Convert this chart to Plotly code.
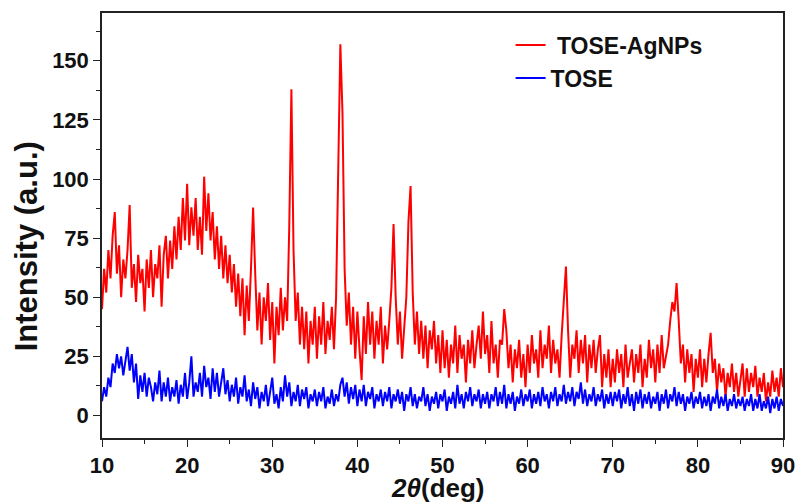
import numpy as np
import plotly.graph_objects as go

# 2-theta positions (deg), 0.25 deg step from 10 to 90
two_theta = [10 + 0.25 * i for i in range(321)]

# TOSE-AgNPs intensity (a.u.) (5 deg per row)
tose_agnps = [
    45, 62, 52, 70, 58, 76, 86, 60, 72, 50, 66, 58, 70, 89, 54, 64, 48, 68, 56, 62,
    44, 66, 54, 70, 50, 64, 58, 72, 46, 68, 76, 58, 74, 62, 80, 66, 84, 70, 92, 74,
    98, 72, 88, 76, 92, 70, 84, 68, 101, 78, 94, 74, 86, 66, 80, 62, 76, 58, 72, 56,
    68, 52, 64, 46, 60, 42, 58, 34, 55, 40, 62, 88, 60, 36, 52, 30, 50, 40, 56, 32,
    48, 22, 46, 34, 54, 36, 50, 40, 80, 138, 70, 40, 52, 30, 46, 28, 44, 22, 40, 30,
    46, 24, 42, 30, 48, 26, 40, 32, 46, 28, 50, 105, 157, 128, 62, 38, 52, 30, 46, 24,
    44, 28, 15, 42, 26, 48, 30, 44, 24, 40, 30, 46, 22, 38, 28, 40, 54, 81, 50, 30,
    44, 24, 36, 50, 82, 97, 52, 30, 44, 26, 40, 24, 38, 20, 36, 28, 40, 22, 34, 18,
    36, 20, 32, 16, 30, 22, 38, 18, 34, 24, 30, 14, 32, 22, 36, 20, 30, 38, 24, 44,
    26, 34, 18, 40, 22, 30, 16, 32, 30, 45, 36, 20, 30, 14, 28, 20, 32, 16, 26, 12,
    30, 18, 34, 22, 28, 16, 36, 20, 30, 24, 38, 18, 32, 22, 28, 16, 34, 48, 63, 36,
    16, 30, 24, 36, 18, 32, 22, 34, 14, 30, 20, 32, 18, 28, 34, 12, 26, 16, 28, 12,
    24, 14, 28, 18, 26, 12, 30, 16, 22, 28, 14, 26, 18, 30, 12, 24, 16, 32, 20, 28,
    14, 30, 18, 34, 20, 26, 30, 40, 48, 44, 56, 40, 22, 30, 14, 28, 18, 26, 10, 24,
    16, 28, 12, 24, 14, 26, 35, 18, 24, 10, 22, 14, 20, 8, 18, 12, 22, 10, 18, 8,
    16, 22, 8, 20, 10, 18, 12, 21, 8, 16, 10, 18, 6, 14, 8, 19, 10, 16, 8, 20,
    12,
]

# TOSE intensity (a.u.)
tose = [
    6, 12, 8, 16, 12, 22, 18, 26, 20, 25, 17, 24, 29, 19, 26, 14, 22, 7, 17, 10,
    18, 8, 16, 12, 6, 14, 9, 19, 6, 14, 8, 16, 6, 12, 8, 15, 5, 13, 8, 18,
    7, 14, 25, 8, 14, 10, 18, 8, 21, 12, 16, 7, 20, 10, 18, 8, 14, 20, 9, 15,
    6, 13, 8, 16, 5, 12, 8, 17, 6, 11, 4, 14, 7, 12, 3, 10, 6, 13, 4, 10,
    16, 5, 9, 3, 12, 6, 17, 8, 14, 4, 10, 6, 13, 4, 11, 7, 12, 3, 9, 6,
    11, 4, 10, 6, 12, 3, 8, 5, 11, 4, 9, 6, 13, 16, 8, 14, 5, 12, 7, 13,
    4, 11, 6, 13, 4, 10, 7, 12, 3, 9, 6, 11, 4, 10, 6, 12, 3, 9, 6, 11,
    5, 10, 2, 9, 6, 12, 4, 9, 3, 8, 6, 12, 4, 9, 2, 8, 5, 10, 3, 9,
    6, 11, 2, 8, 5, 10, 3, 13, 5, 9, 3, 10, 6, 12, 4, 9, 6, 11, 3, 9,
    5, 10, 3, 9, 6, 12, 4, 10, 5, 13, 3, 9, 5, 10, 2, 8, 5, 11, 4, 9,
    6, 11, 3, 9, 5, 10, 4, 12, 6, 9, 3, 10, 6, 12, 4, 9, 6, 13, 5, 10,
    6, 12, 4, 10, 7, 14, 5, 11, 4, 9, 6, 12, 4, 9, 6, 11, 3, 9, 5, 10,
    4, 10, 6, 11, 3, 9, 5, 12, 4, 9, 2, 10, 5, 11, 3, 9, 5, 10, 3, 8,
    5, 10, 2, 9, 5, 11, 3, 9, 6, 12, 4, 10, 5, 9, 2, 8, 5, 10, 3, 8,
    5, 10, 3, 8, 4, 9, 2, 8, 5, 11, 3, 8, 4, 9, 2, 7, 4, 9, 3, 7,
    4, 8, 2, 7, 4, 9, 2, 7, 3, 9, 2, 6, 3, 8, 1, 7, 3, 8, 2, 7,
    4,
]

x_tick_vals = [10, 20, 30, 40, 50, 60, 70, 80, 90]
y_tick_vals = [0, 25, 50, 75, 100, 125, 150]

font_family = "Liberation Sans, Arial, sans-serif"
axis_color = "#222222"

fig = go.Figure()
fig.add_trace(go.Scatter(x=two_theta, y=tose_agnps, mode="lines",
                         name=" TOSE-AgNPs", line=dict(color="#FF0000", width=2)))
fig.add_trace(go.Scatter(x=two_theta, y=tose, mode="lines",
                         name="TOSE", line=dict(color="#0000FF", width=2)))

axis_common = dict(
    showline=True, linecolor=axis_color, linewidth=1.5, mirror=True,
    showgrid=False, zeroline=False, automargin=False,
    ticklabeloverflow="allow",
    ticks="outside", ticklen=7, tickwidth=1.3, tickcolor=axis_color,
    tickfont=dict(family=font_family, size=22, color="#111111", weight="bold"),
)

fig.update_xaxes(range=[10, 90], tickvals=x_tick_vals,
                 minor=dict(dtick=5, ticks="outside", ticklen=4, tickwidth=1.2,
                            tickcolor=axis_color, showgrid=False),
                 **axis_common)
fig.update_yaxes(range=[-9.5, 170.2], tickvals=y_tick_vals,
                 minor=dict(dtick=12.5, tick0=0, ticks="outside", ticklen=4, tickwidth=1.2,
                            tickcolor=axis_color, showgrid=False),
                 **axis_common)

fig.add_annotation(text="Intensity (a.u.)", xref="paper", yref="paper",
                   x=-0.111, y=0.452, xanchor="center", yanchor="middle",
                   textangle=-90, showarrow=False,
                   font=dict(family=font_family, size=31, color="#111111", weight="bold"))
fig.add_annotation(text="<i>2θ</i>(deg)", xref="paper", yref="paper",
                   x=0.4934, y=-0.117, xanchor="center", yanchor="middle",
                   showarrow=False,
                   font=dict(family=font_family, size=26, color="#111111", weight="bold"))

fig.update_layout(
    width=801, height=502, autosize=False,
    margin=dict(l=102, r=18, t=13, b=64, autoexpand=False),
    paper_bgcolor="white", plot_bgcolor="white",
    showlegend=True,
    legend=dict(x=0.60, y=0.975, xanchor="left", yanchor="top",
                bgcolor="rgba(0,0,0,0)", borderwidth=0,
                font=dict(family=font_family, size=23, color="#111111", weight="bold"),
                tracegroupgap=0),
)

fig.write_html("out.html",
               config={"displayModeBar": False, "responsive": False},
               post_script="document.body.style.margin='0px';document.body.style.padding='0px';"
                           "document.body.style.overflow='hidden';"
                           "document.documentElement.style.overflow='hidden';")
